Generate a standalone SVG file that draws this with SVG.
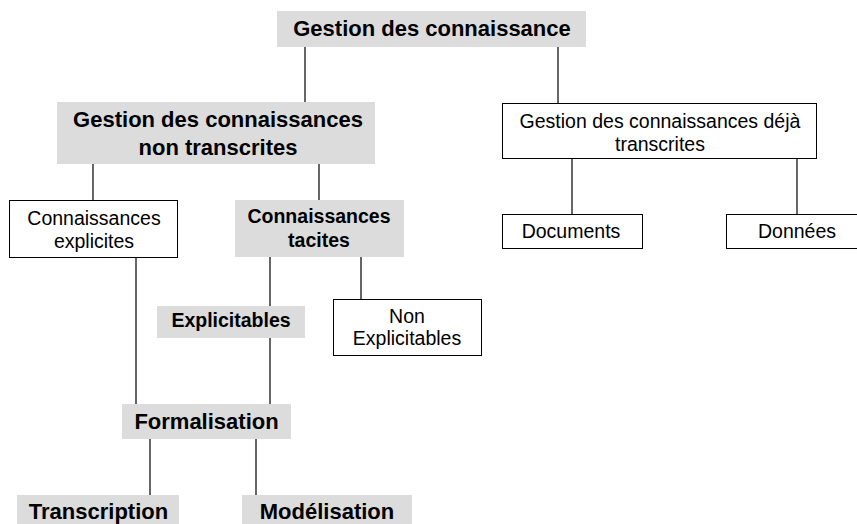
<svg xmlns="http://www.w3.org/2000/svg" width="857" height="524" viewBox="0 0 857 524">
  <style>
    .gray { fill: #dcdcdc; stroke: none; }
    .white { fill: #ffffff; stroke: #000000; stroke-width: 1; }
    .b { font-family: "Liberation Sans", Arial, sans-serif; font-weight: bold; fill: #000; text-anchor: middle; }
    .big { font-size: 22px; }
    .mid { font-size: 19.5px; }
    .r { font-family: "Liberation Sans", Arial, sans-serif; font-size: 19.5px; fill: #000; text-anchor: middle; }
    .link { stroke: #000000; stroke-width: 1.2; fill: none; }
  </style>
  <rect width="857" height="524" fill="#ffffff"/>

  <g id="connectors">
    <line class="link" x1="305" y1="47" x2="305" y2="102"/>
    <line class="link" x1="558" y1="47" x2="558" y2="103"/>
    <line class="link" x1="93" y1="164" x2="93" y2="200"/>
    <line class="link" x1="319" y1="164" x2="319" y2="200"/>
    <line class="link" x1="572" y1="159" x2="572" y2="214"/>
    <line class="link" x1="797" y1="159" x2="797" y2="214"/>
    <line class="link" x1="136" y1="258" x2="136" y2="404"/>
    <line class="link" x1="270" y1="257" x2="270" y2="306"/>
    <line class="link" x1="361" y1="257" x2="361" y2="299"/>
    <line class="link" x1="270" y1="338" x2="270" y2="404"/>
    <line class="link" x1="150" y1="439" x2="150" y2="495"/>
    <line class="link" x1="256" y1="439" x2="256" y2="495"/>
  </g>

  <g id="gestion">
    <rect class="gray" x="277" y="11" width="309" height="36"/>
    <text class="b big" x="432" y="36">Gestion des connaissance</text>
  </g>

  <g id="non-transcrites">
    <rect class="gray" x="57" y="102" width="318" height="62"/>
    <text class="b big" x="218" y="127">Gestion des connaissances</text>
    <text class="b big" x="218" y="155">non transcrites</text>
  </g>

  <g id="deja-transcrites">
    <rect class="white" x="502.5" y="103.5" width="314" height="55"/>
    <text class="r" x="660" y="128">Gestion des connaissances déjà</text>
    <text class="r" x="660" y="151">transcrites</text>
  </g>

  <g id="explicites">
    <rect class="white" x="9.5" y="200.5" width="168" height="57"/>
    <text class="r" x="94" y="225">Connaissances</text>
    <text class="r" x="94" y="248">explicites</text>
  </g>

  <g id="tacites">
    <rect class="gray" x="235" y="200" width="169" height="57"/>
    <text class="b mid" x="319" y="223">Connaissances</text>
    <text class="b mid" x="319" y="247">tacites</text>
  </g>

  <g id="documents">
    <rect class="white" x="502.5" y="214.5" width="140" height="34"/>
    <text class="r" x="571" y="238">Documents</text>
  </g>

  <g id="donnees">
    <rect class="white" x="726.5" y="214.5" width="142" height="34"/>
    <text class="r" x="797" y="238">Données</text>
  </g>

  <g id="explicitables">
    <rect class="gray" x="157" y="306" width="148" height="32"/>
    <text class="b mid" x="231" y="327">Explicitables</text>
  </g>

  <g id="non-explicitables">
    <rect class="white" x="333.5" y="299.5" width="148" height="56"/>
    <text class="r" x="407" y="323">Non</text>
    <text class="r" x="407" y="345">Explicitables</text>
  </g>

  <g id="formalisation">
    <rect class="gray" x="122" y="404" width="169" height="35"/>
    <text class="b big" x="206.5" y="429">Formalisation</text>
  </g>

  <g id="transcription">
    <rect class="gray" x="17" y="495" width="162" height="40"/>
    <text class="b big" x="98.5" y="519">Transcription</text>
  </g>

  <g id="modelisation">
    <rect class="gray" x="242" y="495" width="170" height="40"/>
    <text class="b big" x="327" y="519">Modélisation</text>
  </g>
</svg>
